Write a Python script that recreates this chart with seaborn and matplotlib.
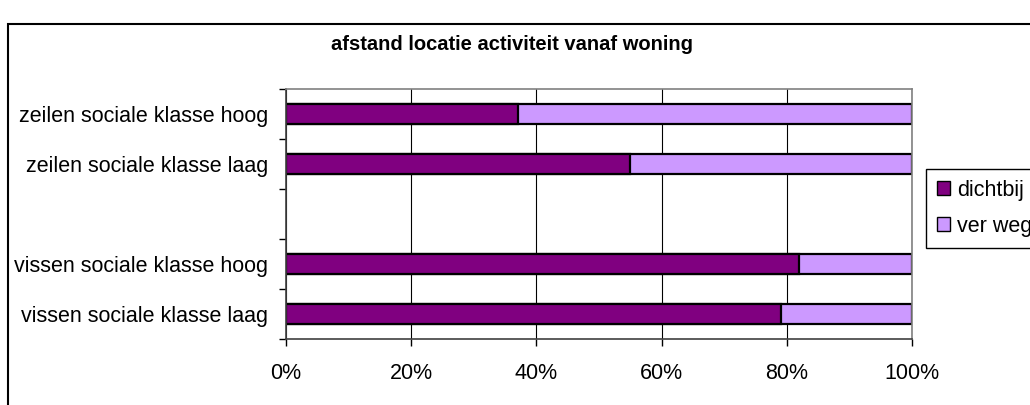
import matplotlib
matplotlib.use('Agg')
import matplotlib.pyplot as plt
import seaborn as sns
import pandas as pd
from matplotlib.patches import Rectangle, Patch
from matplotlib.ticker import FuncFormatter, MultipleLocator

sns.set_style('white')
plt.rcParams['font.family'] = ['Liberation Sans', 'DejaVu Sans']
plt.rcParams['text.color'] = 'black'
plt.rcParams['xtick.color'] = 'black'
plt.rcParams['ytick.color'] = 'black'

# data (percentages)
categories = ['zeilen sociale klasse hoog', 'zeilen sociale klasse laag',
              'vissen sociale klasse hoog', 'vissen sociale klasse laag']
dichtbij = [37, 55, 82, 79]
ver_weg = [63, 45, 18, 21]
order = ['zeilen sociale klasse hoog', 'zeilen sociale klasse laag', ' ',
         'vissen sociale klasse hoog', 'vissen sociale klasse laag']

df = pd.DataFrame({'categorie': categories, 'dichtbij': dichtbij, 'ver weg': ver_weg})
df['totaal'] = df['dichtbij'] + df['ver weg']

dark = '#800080'
light = '#CC99FF'

fig = plt.figure(figsize=(10.3, 4.05), dpi=100)
ax = fig.add_axes([286 / 1030, 66 / 405, 626 / 1030, 250 / 405])

sns.barplot(data=df, y='categorie', x='totaal', order=order, color=light,
            width=0.4, edgecolor='black', linewidth=1.6, saturation=1, ax=ax)
sns.barplot(data=df, y='categorie', x='dichtbij', order=order, color=dark,
            width=0.4, edgecolor='black', linewidth=1.6, saturation=1, ax=ax)

ax.set_xlim(0, 100)
ax.set_ylim(4.5, -0.5)
ax.set_xlabel('')
ax.set_ylabel('')
ax.xaxis.set_major_locator(MultipleLocator(20))
ax.xaxis.set_major_formatter(FuncFormatter(lambda v, p: f'{v:.0f}%'))
ax.grid(axis='x', color='black', linewidth=0.8)
ax.set_axisbelow(True)

ax.set_yticks(range(len(order)))
ax.set_yticklabels(order)
ax.set_yticks([i - 0.5 for i in range(len(order) + 1)], minor=True)
ax.tick_params(axis='y', which='major', length=0, labelsize=15.5, pad=13)
ax.tick_params(axis='y', which='minor', length=5, width=1, color='black', left=True)
ax.tick_params(axis='x', which='major', length=5, width=1, color='black',
               bottom=True, labelsize=15.5, pad=12)

for side in ['top', 'right']:
    ax.spines[side].set_color('#808080')
    ax.spines[side].set_linewidth(1.2)
for side in ['left', 'bottom']:
    ax.spines[side].set_color('#404040')
    ax.spines[side].set_linewidth(1.2)

fig.text(512 / 1030, 1 - 45 / 405, 'afstand locatie activiteit vanaf woning',
         ha='center', va='center', fontsize=14.5, fontweight='bold')

# outer chart border (extends past the right and bottom edges)
fig.patches.append(Rectangle((8 / 1030, -0.05), 1.1, 1 - 24 / 405 + 0.05,
                             transform=fig.transFigure, fill=False,
                             edgecolor='black', linewidth=1.5))

handles = [Patch(facecolor=dark, edgecolor='black', label='dichtbij'),
           Patch(facecolor=light, edgecolor='black', label='ver weg')]
fig.legend(handles=handles, loc='upper left',
           bbox_to_anchor=(926 / 1030, 1 - 169 / 405), fontsize=15.5,
           frameon=True, fancybox=False, edgecolor='black', framealpha=1,
           handlelength=0.6, handleheight=0.6, handletextpad=0.35,
           borderpad=0.5, labelspacing=0.7, borderaxespad=0)

fig.savefig('out.png', dpi=100)
